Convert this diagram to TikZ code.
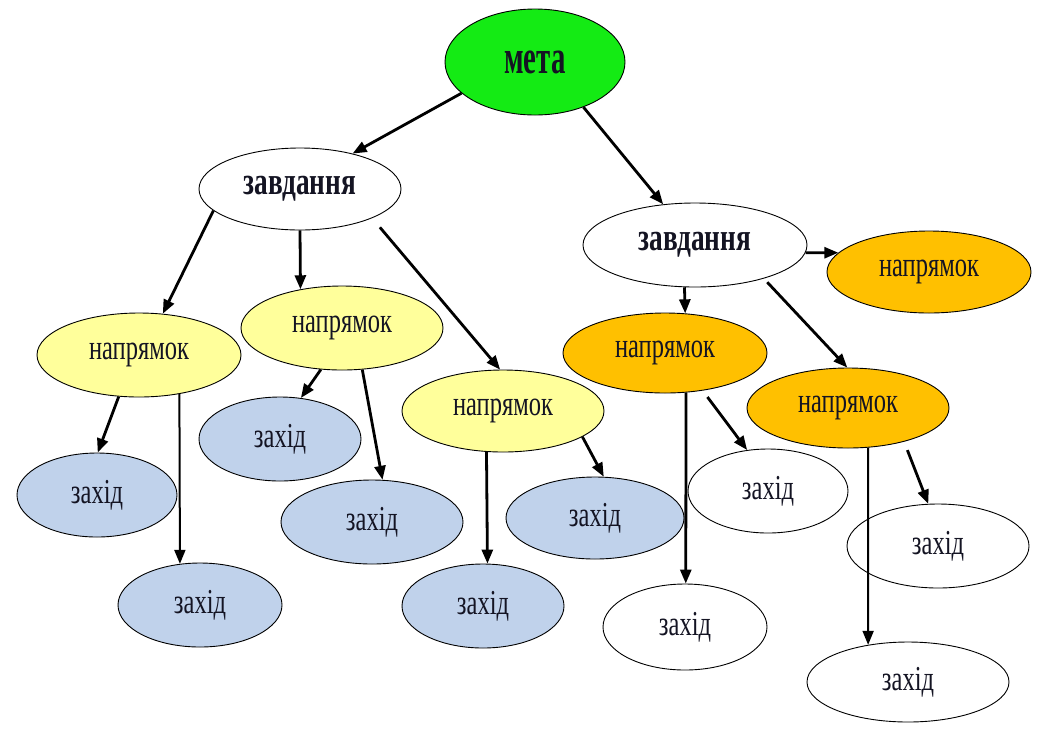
\documentclass[tikz,border=0pt]{standalone}
\usepackage{fontspec}
\usetikzlibrary{shapes.geometric,arrows.meta}
\newfontfamily\nf[FakeStretch=0.70]{Liberation Serif}
\newfontfamily\bnf[FakeStretch=0.70]{Liberation Serif}
\newfontfamily\mnf[FakeStretch=0.60]{Liberation Serif}
\definecolor{cgreen}{RGB}{20,235,20}
\definecolor{cyellow}{RGB}{255,255,155}
\definecolor{corange}{RGB}{255,192,0}
\definecolor{cblue}{RGB}{192,210,235}
\definecolor{ctext}{RGB}{20,20,35}
\begin{document}
\begin{tikzpicture}[x=1pt,y=-1pt,
  el/.style={ellipse,draw=black,line width=0.9pt,inner sep=0pt,text=ctext},
  reg/.style={el,font=\nf\fontsize{35}{35}\selectfont},
  bld/.style={el,font=\bnf\bfseries\fontsize{39}{39}\selectfont},
  goal/.style={el,fill=cgreen,font=\mnf\bfseries\fontsize{48}{48}\selectfont},
  task/.style={bld,fill=white},
  diry/.style={reg,fill=cyellow},
  diro/.style={reg,fill=corange},
  actb/.style={reg,fill=cblue},
  actw/.style={reg,fill=white},
  arr/.style={line width=2.8pt,-{Triangle[length=14pt,width=11pt]}},
  arrt/.style={line width=2pt,-{Triangle[length=14pt,width=11pt]}}]
\useasboundingbox (0,0) rectangle (1038,729);
\fill[white] (0,0) rectangle (1038,729);
% nodes
\node[goal,minimum width=180pt,minimum height=106pt] (meta) at (535,62) {мета};
\node[task,minimum width=202pt,minimum height=82pt] (zL) at (300,189) {завдання};
\node[task,minimum width=224pt,minimum height=84pt] (zR) at (695,245) {завдання};
\node[diro,minimum width=204pt,minimum height=82pt] (nTR) at (929,272) {напрямок};
\node[diry,minimum width=204pt,minimum height=84pt] (nL) at (139,355) {напрямок};
\node[diry,minimum width=202pt,minimum height=84pt] (nM) at (342,328) {напрямок};
\node[diry,minimum width=202pt,minimum height=82pt] (n3) at (503,411) {напрямок};
\node[diro,minimum width=204pt,minimum height=80pt] (nO1) at (665,353) {напрямок};
\node[diro,minimum width=202pt,minimum height=80pt] (nO2) at (848,408) {напрямок};
\node[actb,minimum width=160pt,minimum height=84pt] (w1) at (97,495) {захід};
\node[actb,minimum width=164pt,minimum height=84pt] (w2) at (200,605) {захід};
\node[actb,minimum width=162pt,minimum height=84pt] (w3) at (280,439) {захід};
\node[actb,minimum width=182pt,minimum height=84pt] (w4) at (372,522) {захід};
\node[actb,minimum width=162pt,minimum height=84pt] (w5) at (483,606) {захід};
\node[actb,minimum width=178pt,minimum height=82pt] (w6) at (595,518) {захід};
\node[actw,minimum width=160pt,minimum height=84pt] (x1) at (768,491) {захід};
\node[actw,minimum width=164pt,minimum height=86pt] (x2) at (685,627) {захід};
\node[actw,minimum width=182pt,minimum height=84pt] (x3) at (938,546) {захід};
\node[actw,minimum width=202pt,minimum height=80pt] (x4) at (908,682) {захід};
% edges
\draw[arr] (meta.203) -- (zL.34);
\draw[arr] (meta.317) -- (zR.128);
\draw[arr] (zL.194) -- (nL.60);
\draw[arr] (zL.270) -- (nM.137.9);
\draw[arr,shorten <=12pt] (zL.338.8) -- (n3.94);
\draw[arr] (zR.356) -- (nTR.168.6);
\draw[arr] (zR.256.5) -- (nO1.63);
\draw[arr,shorten <=5pt] (zR.334.4) -- (nO2.91);
\draw[arr] (nL.244) -- (w1.89);
\draw[arrt] (nL.316.8) -- (w2.116.2);
\draw[arr] (nM.243.4) -- (w3.63.8);
\draw[arr] (nM.296.6) -- (w4.76.5);
\draw[arr] (n3.248.4) -- (w5.84.6);
\draw[arr] (n3.342) -- (w6.78.9);
\draw[arr] (nO1.298.2) -- (x2.89);
\draw[arr,shorten <=8pt] (nO1.315) -- (x1.117.4);
\draw[arrt] (nO2.297) -- (x4.137.5);
\draw[arr,shorten <=9pt] (nO2.329.8) -- (x3.103.5);
\end{tikzpicture}
\end{document}
